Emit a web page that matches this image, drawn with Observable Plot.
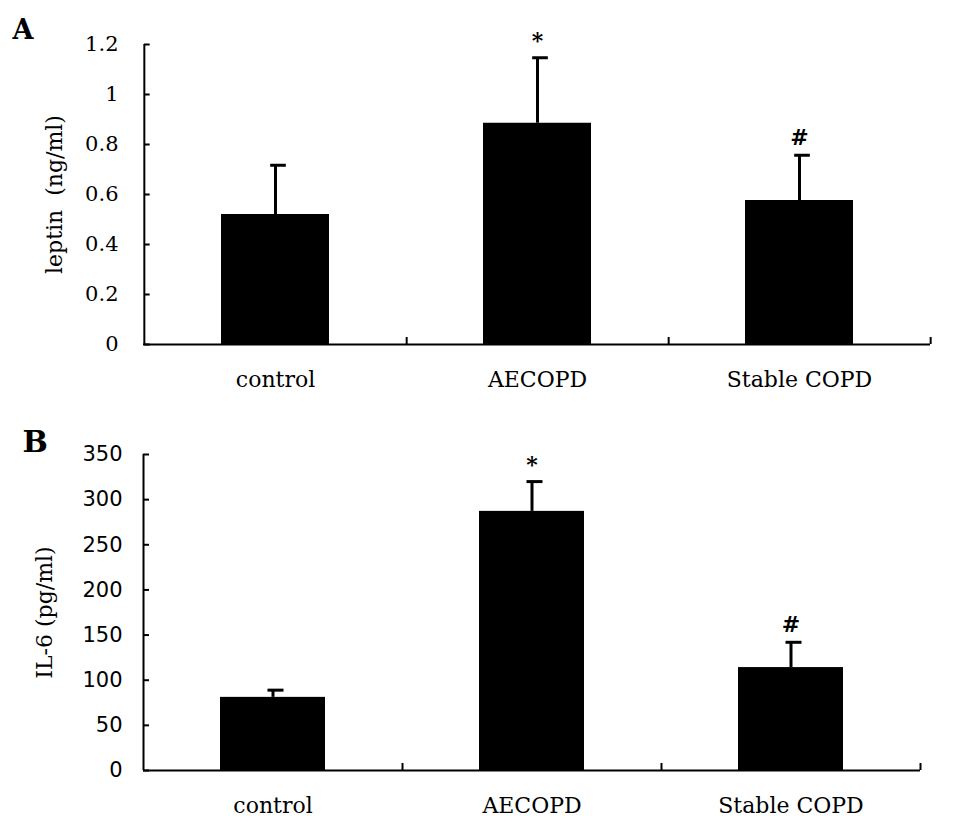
<!DOCTYPE html>
<html>
<head>
<meta charset="utf-8">
<script src="https://cdn.jsdelivr.net/npm/d3@7"></script>
<script src="https://cdn.jsdelivr.net/npm/@observablehq/plot@0.6"></script>
<style>
  body { margin: 0; background: #fff; }
</style>
</head>
<body>
<div id="chartA"></div>
<div id="chartB"></div>
<script>
// groups on the x axis
const groups = ['control', 'AECOPD', 'Stable COPD'];

// panel A: leptin (ng/ml), mean and SD
const leptinMean = [0.52, 0.885, 0.576];
const leptinSD = [0.197, 0.262, 0.181];
const leptinSig = ['', '*', '#'];
const leptinTicks = [0, 0.2, 0.4, 0.6, 0.8, 1, 1.2];

// panel B: IL-6 (pg/ml), mean and SD
const il6Mean = [81, 287, 114];
const il6SD = [8, 33, 28];
const il6Sig = ['', '*', '#'];
const il6Ticks = [0, 50, 100, 150, 200, 250, 300, 350];

const W = 956;

function panel(opts) {
  const data = groups.map((g, i) => ({
    group: g,
    mean: opts.mean[i],
    top: opts.mean[i] + opts.sd[i],
    sig: opts.sig[i],
  }));
  const plotW = W - opts.marginLeft - opts.marginRight;
  const plotH = opts.height - opts.marginTop - opts.marginBottom;
  const bw = plotW / groups.length;

  return Plot.plot({
    width: W,
    height: opts.height,
    marginTop: opts.marginTop,
    marginBottom: opts.marginBottom,
    marginLeft: opts.marginLeft,
    marginRight: opts.marginRight,
    x: { domain: groups, padding: 0 },
    y: { domain: [0, opts.ticks[opts.ticks.length - 1]] },
    style: {
      'background-color': '#fff',
      color: 'black',
      'font-family': 'DejaVu Serif',
    },
    marks: [
      Plot.barY(data, { x: 'group', y: 'mean', fill: 'black', insetLeft: 77, insetRight: 77 }),
      // error bars (upper half only)
      Plot.ruleX(data, { x: 'group', y1: 'mean', y2: 'top', stroke: 'black', strokeWidth: 3 }),
      Plot.tickY(data, {
        x: 'group', y: 'top', stroke: 'black', strokeWidth: 3,
        insetLeft: bw / 2 - 5, insetRight: bw / 2 - 11,
      }),
      Plot.text(data, {
        x: 'group', y: 'top', text: 'sig', dy: -10, lineAnchor: 'bottom',
        fontSize: 22, fontWeight: 'bold', fontFamily: 'DejaVu Serif',
      }),
      // axis lines
      Plot.ruleY([0], { stroke: 'black', strokeWidth: 2 }),
      Plot.ruleX([groups[0]], { x: (d) => d, dx: -bw / 2, stroke: 'black', strokeWidth: 2 }),
      // inside ticks on y axis
      Plot.tickY(opts.ticks, {
        x: () => groups[0], y: (d) => d, stroke: 'black', strokeWidth: 2,
        insetRight: bw - 6,
      }),
      // inside ticks at category boundaries
      Plot.ruleX(groups, {
        x: (d) => d, dx: bw / 2, insetTop: plotH - 7, stroke: 'black', strokeWidth: 2,
      }),
      Plot.axisY({
        ticks: opts.ticks,
        tickFormat: (d) => String(d),
        tickSize: 0,
        tickPadding: opts.tickPadding,
        fontSize: opts.tickFontSize,
        fontFamily: opts.tickFont,
        label: null,
      }),
      Plot.axisY({
        ticks: [],
        tickSize: 0,
        label: opts.label,
        labelAnchor: 'center',
        labelArrow: 'none',
        labelOffset: opts.labelOffset,
        fontSize: 22,
        fontFamily: 'DejaVu Serif',
      }),
      Plot.axisX({
        tickSize: 0,
        tickPadding: 27,
        fontSize: 22,
        fontFamily: 'DejaVu Serif',
        label: null,
      }),
      // panel letter
      Plot.text([opts.letter], {
        frameAnchor: 'top-left', dx: opts.letterDx, dy: opts.letterDy,
        textAnchor: 'start', lineAnchor: 'middle',
        fontSize: opts.letterSize, fontWeight: 'bold', fontFamily: 'DejaVu Serif',
      }),
    ],
  });
}

const chartA = panel({
  letter: 'A', letterDx: -131, letterDy: -14, letterSize: 27,
  mean: leptinMean, sd: leptinSD, sig: leptinSig, ticks: leptinTicks,
  label: 'leptin  (ng/ml)', labelOffset: 97,
  height: 400, marginTop: 44, marginBottom: 56, marginLeft: 143, marginRight: 26,
  tickPadding: 25, tickFontSize: 21, tickFont: 'DejaVu Serif',
});

const chartB = panel({
  letter: 'B', letterDx: -121, letterDy: -12, letterSize: 30,
  mean: il6Mean, sd: il6SD, sig: il6Sig, ticks: il6Ticks,
  label: 'IL-6 (pg/ml)', labelOffset: 107,
  height: 428, marginTop: 54, marginBottom: 58, marginLeft: 143, marginRight: 36,
  tickPadding: 21, tickFontSize: 21, tickFont: 'DejaVu Sans',
});

d3.select('#chartA').append(() => chartA);
d3.select('#chartB').append(() => chartB);
</script>
</body>
</html>
